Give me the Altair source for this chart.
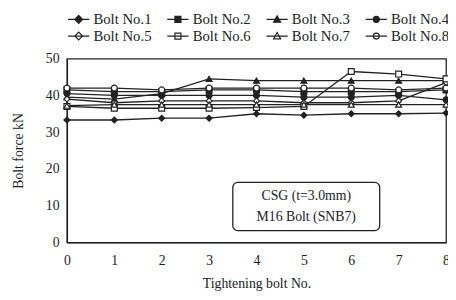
import altair as alt
import pandas as pd

bolts = ["Bolt No.1", "Bolt No.2", "Bolt No.3", "Bolt No.4",
         "Bolt No.5", "Bolt No.6", "Bolt No.7", "Bolt No.8"]
steps = [0, 1, 2, 3, 4, 5, 6, 7, 8]
b1 = [33.3, 33.3, 33.8, 33.8, 35.0, 34.6, 35.0, 35.0, 35.2]
b2 = [41.5, 41.0, 41.0, 41.5, 41.5, 41.0, 41.0, 41.0, 41.5]
b3 = [39.5, 39.0, 40.5, 44.5, 44.0, 44.0, 44.0, 44.0, 44.0]
b4 = [40.5, 40.0, 40.0, 40.0, 40.0, 39.5, 39.5, 40.0, 38.8]
b5 = [39.0, 38.0, 38.5, 38.5, 38.5, 38.0, 38.0, 38.5, 43.5]
b6 = [37.0, 36.5, 36.5, 36.5, 36.7, 37.0, 46.5, 45.8, 44.5]
b7 = [37.2, 37.5, 37.5, 37.5, 37.5, 37.5, 37.5, 37.5, 37.5]
b8 = [42.0, 42.0, 41.5, 42.0, 42.0, 42.0, 42.0, 41.5, 42.0]
series = [b1, b2, b3, b4, b5, b6, b7, b8]
y_ticks = [0, 10, 20, 30, 40, 50]

note_lines = ["CSG (t=3.0mm)", "M16 Bolt (SNB7)"]
note_x = [5.05, 5.05]
note_y = [12.6, 7.0]
box_x = [3.5]
box_x2 = [6.6]
box_y = [16.3]
box_y2 = [3.2]

rows = []
for name, vals in zip(bolts, series):
    for s, v in zip(steps, vals):
        rows.append({"bolt": name, "step": s, "force": v})
df = pd.DataFrame(rows)

SERIF = "Liberation Serif"
INK = "#222222"

plot_shapes = ["diamond", "square", "triangle-up", "circle",
               "diamond", "square", "triangle-up", "circle"]
fills = [INK] * 4 + ["white"] * 4

LINE = "M-1.35,0H1.35"
leg_shapes = [
    LINE + "M-0.5,0L0,-0.5L0.5,0L0,0.5Z",
    LINE + "M-0.38,-0.38H0.38V0.38H-0.38Z",
    LINE + "M0,-0.45L0.45,0.35H-0.45Z",
    LINE + "M-0.38,0A0.38,0.38 0 1,0 0.38,0A0.38,0.38 0 1,0 -0.38,0Z",
]
leg_shapes = leg_shapes + leg_shapes

x_axis = alt.Axis(values=steps, title="Tightening bolt No.", grid=False,
                  ticks=False, labelPadding=12, labelFlush=False,
                  labelOverlap=False, titlePadding=9)
y_axis = alt.Axis(values=y_ticks, title="Bolt force  kN",
                  grid=False, ticks=False, labelPadding=8,
                  labelOverlap=False, titlePadding=20)
x_scale = alt.Scale(domain=[0, 8], nice=False)
y_scale = alt.Scale(domain=[0, 50], nice=False)


def X(f):
    return alt.X(f, scale=x_scale, axis=x_axis)


def Y(f):
    return alt.Y(f, scale=y_scale, axis=y_axis)


base = alt.Chart(df)

lines = base.mark_line(color=INK, strokeWidth=1.3).encode(
    x=X("step:Q"), y=Y("force:Q"), detail="bolt:N")

point_layers = []
for name, shp, fc in zip(bolts, plot_shapes, fills):
    point_layers.append(
        base.transform_filter(alt.datum.bolt == name).mark_point(
            shape=shp, size=36, stroke=INK, strokeWidth=1.2, fill=fc,
            filled=False, opacity=1).encode(x=X("step:Q"), y=Y("force:Q")))

legend_layer = base.transform_filter("datum.force < -100").mark_point(
    size=256, strokeWidth=1.2, opacity=1).encode(
    x=X("step:Q"), y=Y("force:Q"),
    shape=alt.Shape("bolt:N", scale=alt.Scale(domain=bolts, range=leg_shapes),
                    legend=alt.Legend(title=None, orient="none", legendX=3, legendY=-49,
                                      direction="horizontal",
                                      columns=4, columnPadding=12, rowPadding=0,
                                      symbolSize=256, symbolStrokeWidth=1.2,
                                      labelFont=SERIF,
                                      labelFontSize=15, labelColor=INK,
                                      labelOffset=6)),
    fill=alt.Fill("bolt:N", scale=alt.Scale(domain=bolts, range=fills), legend=None),
    stroke=alt.Stroke("bolt:N", scale=alt.Scale(domain=bolts, range=[INK] * 8), legend=None),
)

box_df = pd.DataFrame({"step": box_x, "step2": box_x2, "force": box_y, "force2": box_y2})
box = alt.Chart(box_df).mark_rect(fill="white", stroke=INK, strokeWidth=1.3,
                                  cornerRadius=5).encode(
    x=X("step:Q"), x2="step2:Q", y=Y("force:Q"), y2="force2:Q")

note_df = pd.DataFrame({"t": note_lines, "step": note_x, "force": note_y})
note = alt.Chart(note_df).mark_text(font=SERIF, fontSize=14, color=INK).encode(
    x=X("step:Q"), y=Y("force:Q"), text="t:N")

chart = alt.layer(lines, *point_layers, legend_layer, box, note).properties(
    width=386, height=187,
    autosize=alt.AutoSizeParams(type="none"),
    padding={"left": 60, "top": 49, "right": 2, "bottom": 48},
    background="white",
).configure_view(stroke=INK, strokeWidth=1.3).configure_axis(
    labelFont=SERIF, labelFontSize=14, labelColor=INK,
    titleFont=SERIF, titleFontSize=14, titleFontWeight="normal", titleColor=INK,
    domainColor=INK, domainWidth=1.3,
)

chart.save("out.html", embed_options={"renderer": "svg", "actions": False})
